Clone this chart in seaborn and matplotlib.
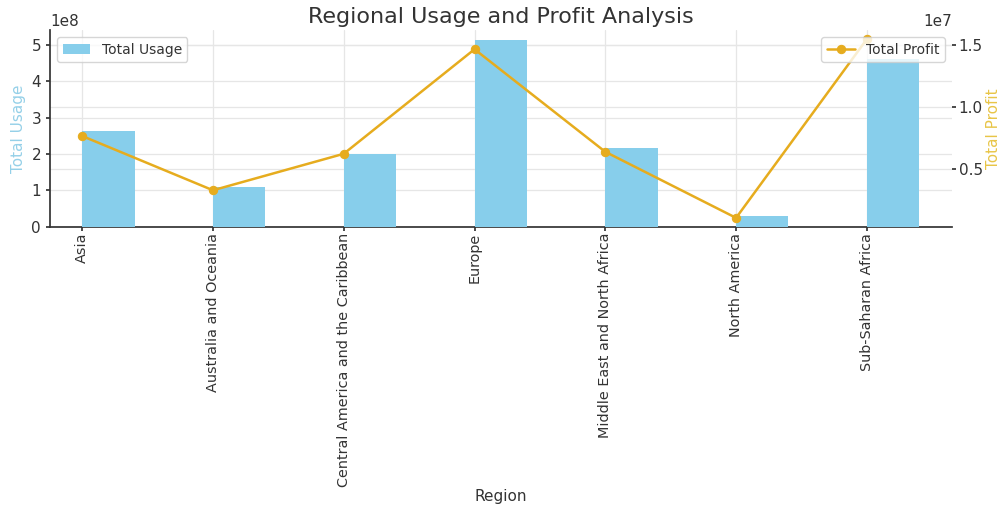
import matplotlib
matplotlib.use("Agg")
import matplotlib.pyplot as plt
import seaborn as sns
import numpy as np
import pandas as pd

regions = ["Asia", "Australia and Oceania", "Central America and the Caribbean",
           "Europe", "Middle East and North Africa", "North America", "Sub-Saharan Africa"]
total_usage = [2.62e8, 1.08e8, 1.99e8, 5.14e8, 2.16e8, 0.30e8, 4.61e8]
total_profit = [0.764e7, 0.324e7, 0.620e7, 1.468e7, 0.636e7, 0.100e7, 1.55e7]

bar_color = "#87ceeb"
line_color = "#e6ac1e"
grid_color = "#e6e6e6"

sns.set_theme(style="whitegrid", rc={
    "grid.color": grid_color,
    "grid.linewidth": 0.9,
    "axes.edgecolor": "#333333",
    "xtick.color": "#333333",
    "ytick.color": "#333333",
    "text.color": "#333333",
    "axes.labelcolor": "#333333",
})
plt.rcParams["font.family"] = ["DejaVu Sans"]

pos = np.arange(len(regions))
df = pd.DataFrame({"pos": pos + 0.2, "usage": total_usage,
                   "x": pos, "profit": total_profit})

fig = plt.figure(figsize=(10.03, 5.12), dpi=100)
ax = fig.add_axes([0.05, 0.557, 0.899, 0.384])
ax.set_axisbelow(True)

sns.barplot(data=df, x="pos", y="usage", native_scale=True, width=0.4,
            color=bar_color, saturation=1, linewidth=0, edgecolor="none",
            label="Total Usage", ax=ax, zorder=3)
ax.set_xlim(-0.245, 6.65)
ax.set_xticks(pos)
ax.set_xticklabels(regions, rotation=90, fontsize=10.4)
ax.set_xlabel("Region", fontsize=11, labelpad=1)
ax.set_ylabel("Total Usage", color="#95d0e8", fontsize=11)
ax.tick_params(axis="y", labelsize=11, length=3, left=True)
ax.tick_params(axis="x", length=3, bottom=True, pad=1.5)
ax.yaxis.get_offset_text().set_fontsize(11)
for s in ["top", "right"]:
    ax.spines[s].set_visible(False)
ax.legend(loc="upper left", fontsize=10, frameon=True)

ax2 = ax.twinx()
sns.lineplot(data=df, x="x", y="profit", color=line_color, marker="o",
             markersize=6, markeredgecolor=line_color, linewidth=1.8,
             label="Total Profit", ax=ax2)
ax2.set_ylim(0.0275e7, 1.6225e7)
ax2.set_ylabel("Total Profit", color="#e8c547", fontsize=11, labelpad=2)
ax2.tick_params(axis="y", labelsize=11, length=3, right=True, pad=2)
ax2.yaxis.get_offset_text().set_fontsize(11)
for s in ["top", "right", "left", "bottom"]:
    ax2.spines[s].set_visible(False)
ax2.grid(False)
ax2.legend(loc="upper right", fontsize=10, frameon=True)

# Right-axis grid lines drawn on the bar axes so they sit behind the bars
fig.canvas.draw()
lo2, hi2 = ax2.get_ylim()
lo1, hi1 = ax.get_ylim()
for t in ax2.get_yticks():
    if lo2 <= t <= hi2:
        y = lo1 + (t - lo2) / (hi2 - lo2) * (hi1 - lo1)
        ax.axhline(y, color=grid_color, linewidth=0.9, zorder=0.5)

ax.set_title("Regional Usage and Profit Analysis", fontsize=16, pad=5)

fig.savefig("out.png", dpi=100)
